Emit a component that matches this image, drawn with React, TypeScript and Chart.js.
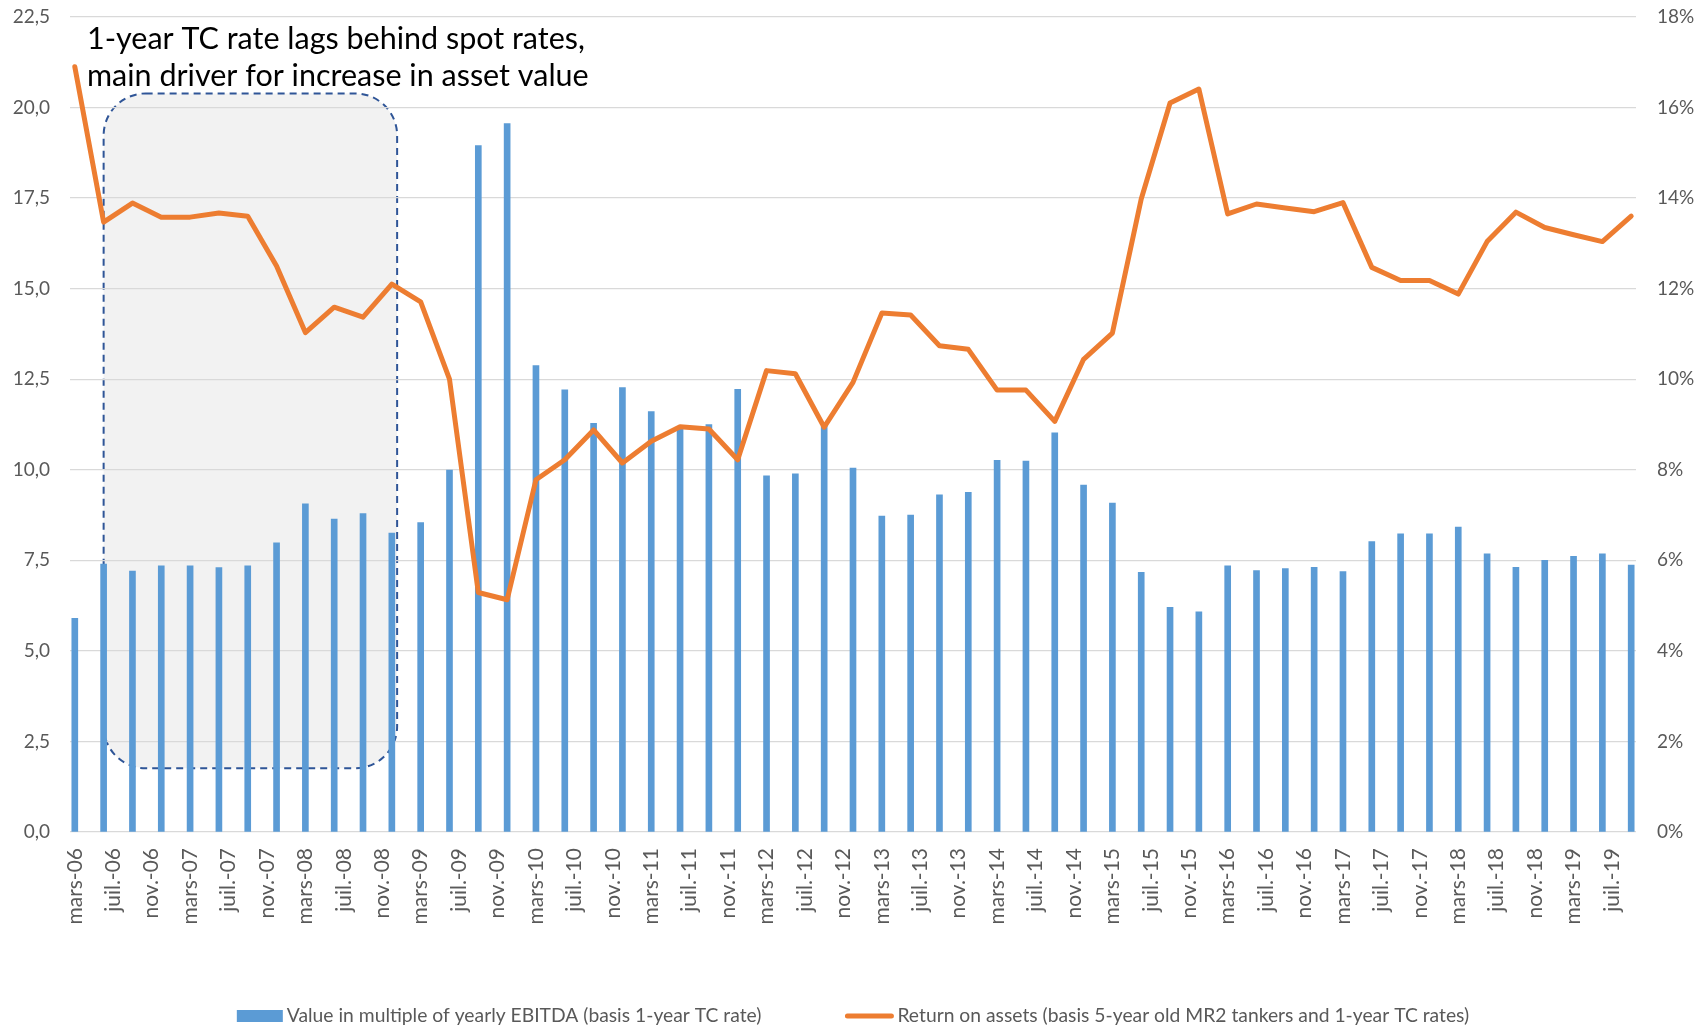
import React, { useEffect, useRef } from 'react';
import { Chart, registerables } from 'chart.js';

Chart.register(...registerables);

// ---- Axis categories (monthly date axis, March 2006 to September 2019) ----
const MONTHS_FR = ['janv.', 'févr.', 'mars', 'avr.', 'mai', 'juin', 'juil.', 'août', 'sept.', 'oct.', 'nov.', 'déc.'];
const FIRST_YEAR = 2006;
const FIRST_MONTH = 2; // mars
const MONTH_COUNT = 163;
const QUARTER_STEP = 3; // data is quarterly
const LABEL_STEP = 4; // a tick label every 4 months

// ---- Series values (one per quarter: mars-06, juin-06, sept-06, déc-06, ... sept-19) ----
const ebitdaMultiple = [
  5.9, 7.4, 7.2, 7.35, 7.35, 7.3, 7.35, 7.98, 9.06, 8.64,
  8.79, 8.25, 8.54, 9.99, 18.95, 19.56, 12.88, 12.21, 11.28, 12.27,
  11.61, 11.2, 11.25, 12.22, 9.83, 9.89, 11.2, 10.05, 8.72, 8.75,
  9.31, 9.38, 10.26, 10.24, 11.02, 9.58, 9.08, 7.17, 6.2, 6.08,
  7.35, 7.22, 7.27, 7.31, 7.19, 8.02, 8.23, 8.23, 8.42, 7.68,
  7.31, 7.5, 7.61, 7.68, 7.37,
];

const returnOnAssetsPct = [
  16.9, 13.47, 13.89, 13.58, 13.58, 13.67, 13.6, 12.5, 11.03, 11.59,
  11.37, 12.1, 11.71, 10.0, 5.29, 5.13, 7.78, 8.22, 8.88, 8.15,
  8.63, 8.95, 8.9, 8.22, 10.19, 10.12, 8.94, 9.93, 11.46, 11.42,
  10.74, 10.66, 9.76, 9.76, 9.07, 10.44, 11.02, 13.98, 16.1, 16.41,
  13.65, 13.87, 13.78, 13.7, 13.9, 12.47, 12.18, 12.18, 11.88, 13.04,
  13.69, 13.35, 13.19, 13.04, 13.6,
];

// ---- Axis ranges ----
const LEFT_MIN = 0;
const LEFT_MAX = 22.5;
const LEFT_STEP = 2.5;
const RIGHT_MIN = 0;
const RIGHT_MAX = 18;
const RIGHT_STEP = 2;

// ---- Texts ----
const SERIES_NAMES = [
  'Value in multiple of yearly EBITDA (basis 1-year TC rate)',
  'Return on assets (basis 5-year old MR2 tankers and 1-year TC rates)',
];
const NOTE_LINES = ['1-year TC rate lags behind spot rates,', 'main driver for increase in asset value'];

// ---- Highlight box (in axis values: month index / left-axis value) ----
const BOX_FROM_INDEX = 3;
const BOX_TO_INDEX = 33.55;
const BOX_TOP_VALUE = 20.39;
const BOX_BOTTOM_VALUE = 1.76;

const BAR_COLOR = '#5b9bd5';
const LINE_COLOR = '#ed7d31';
const TEXT_COLOR = '#595959';
const GRID_COLOR = '#d9d9d9';
const FONT = 'Lato';

function buildCategories(): string[] {
  const out: string[] = [];
  for (let i = 0; i < MONTH_COUNT; i++) {
    const m = (FIRST_MONTH + i) % 12;
    const y = FIRST_YEAR + Math.floor((FIRST_MONTH + i) / 12);
    out.push(`${MONTHS_FR[m]}-${String(y % 100).padStart(2, '0')}`);
  }
  return out;
}

function spreadQuarterly(values: number[]): (number | null)[] {
  const out: (number | null)[] = new Array(MONTH_COUNT).fill(null);
  values.forEach((v, q) => {
    out[q * QUARTER_STEP] = v;
  });
  return out;
}

function roundRect(ctx: CanvasRenderingContext2D, x0: number, y0: number, x1: number, y1: number, r: number) {
  ctx.beginPath();
  ctx.moveTo(x0 + r, y0);
  ctx.lineTo(x1 - r, y0);
  ctx.arcTo(x1, y0, x1, y0 + r, r);
  ctx.lineTo(x1, y1 - r);
  ctx.arcTo(x1, y1, x1 - r, y1, r);
  ctx.lineTo(x0 + r, y1);
  ctx.arcTo(x0, y1, x0, y1 - r, r);
  ctx.lineTo(x0, y0 + r);
  ctx.arcTo(x0, y0, x0 + r, y0, r);
  ctx.closePath();
}

const highlightBoxPlugin = {
  id: 'highlightBox',
  beforeDraw(chart: any) {
    const { ctx, scales } = chart;
    const x0 = scales.x.getPixelForValue(BOX_FROM_INDEX);
    const x1 = scales.x.getPixelForValue(BOX_TO_INDEX);
    const y0 = scales.y.getPixelForValue(BOX_TOP_VALUE);
    const y1 = scales.y.getPixelForValue(BOX_BOTTOM_VALUE);
    ctx.save();
    roundRect(ctx, x0, y0, x1, y1, 42);
    ctx.fillStyle = '#f2f2f2';
    ctx.fill();
    ctx.setLineDash([7, 5]);
    ctx.lineWidth = 2;
    ctx.strokeStyle = '#2f5597';
    ctx.stroke();
    ctx.restore();
  },
};

const notesAndLegendPlugin = {
  id: 'notesAndLegend',
  afterDraw(chart: any) {
    const { ctx, chartArea } = chart;
    ctx.save();
    // annotation text
    ctx.font = `30.5px ${FONT}`;
    ctx.fillStyle = '#000000';
    ctx.textAlign = 'left';
    ctx.textBaseline = 'alphabetic';
    ctx.fillText(NOTE_LINES[0], chartArea.left + 17, chartArea.top + 32);
    ctx.fillText(NOTE_LINES[1], chartArea.left + 17, chartArea.top + 69);

    // legend
    ctx.font = `19.3px ${FONT}`;
    const w1 = ctx.measureText(SERIES_NAMES[0]).width;
    const w2 = ctx.measureText(SERIES_NAMES[1]).width;
    const boxW = 46;
    const lineW = 48;
    const gap = 4;
    const itemGap = 84;
    const total = boxW + gap + w1 + itemGap + lineW + gap + w2;
    let x = (chart.width - total) / 2;
    const cy = chart.height - 14;
    ctx.fillStyle = BAR_COLOR;
    ctx.fillRect(x, cy - 6, boxW, 12);
    x += boxW + gap;
    ctx.fillStyle = TEXT_COLOR;
    ctx.textBaseline = 'middle';
    ctx.fillText(SERIES_NAMES[0], x, cy);
    x += w1 + itemGap;
    ctx.strokeStyle = LINE_COLOR;
    ctx.lineWidth = 5;
    ctx.lineCap = 'round';
    ctx.beginPath();
    ctx.moveTo(x + 2, cy);
    ctx.lineTo(x + lineW - 2, cy);
    ctx.stroke();
    x += lineW + gap;
    ctx.fillStyle = TEXT_COLOR;
    ctx.fillText(SERIES_NAMES[1], x, cy);
    ctx.restore();
  },
};

export default function App() {
  const canvasRef = useRef<HTMLCanvasElement | null>(null);

  useEffect(() => {
    if (!canvasRef.current) return;
    const categories = buildCategories();
    const chart = new Chart(canvasRef.current, {
      type: 'bar',
      data: {
        labels: categories,
        datasets: [
          {
            type: 'line',
            label: SERIES_NAMES[1],
            data: spreadQuarterly(returnOnAssetsPct),
            yAxisID: 'y1',
            borderColor: LINE_COLOR,
            backgroundColor: LINE_COLOR,
            borderWidth: 5,
            pointRadius: 0,
            tension: 0,
            spanGaps: true,
            borderJoinStyle: 'round',
            borderCapStyle: 'round',
            order: 0,
          } as any,
          {
            type: 'bar',
            label: SERIES_NAMES[0],
            data: spreadQuarterly(ebitdaMultiple),
            yAxisID: 'y',
            backgroundColor: BAR_COLOR,
            barThickness: 6,
            order: 1,
          } as any,
        ],
      },
      options: {
        animation: false,
        responsive: false,
        maintainAspectRatio: false,
        layout: { padding: { top: 17, left: 0, right: 0, bottom: 0 } },
        plugins: {
          legend: { display: false },
          tooltip: { enabled: false },
        },
        scales: {
          x: {
            type: 'category',
            offset: true,
            grid: { display: false, drawTicks: false },
            border: { display: false },
            ticks: {
              autoSkip: false,
              maxRotation: 90,
              minRotation: 90,
              padding: 16,
              color: TEXT_COLOR,
              font: { family: FONT, size: 21 },
              callback: function (this: any, value: any, index: number) {
                return index % LABEL_STEP === 0 ? this.getLabelForValue(value) : null;
              },
            },
            afterFit: (scale: any) => {
              scale.height = 198;
            },
          },
          y: {
            type: 'linear',
            position: 'left',
            min: LEFT_MIN,
            max: LEFT_MAX,
            grid: {
              color: GRID_COLOR,
              lineWidth: 1.3,
              drawTicks: true,
              tickLength: 20,
              tickColor: 'rgba(0,0,0,0)',
            },
            border: { display: false },
            ticks: {
              stepSize: LEFT_STEP,
              padding: 0,
              color: TEXT_COLOR,
              font: { family: FONT, size: 19 },
              callback: (v: any) => Number(v).toFixed(1).replace('.', ','),
            },
            afterFit: (scale: any) => {
              scale.width = 70;
            },
          },
          y1: {
            type: 'linear',
            position: 'right',
            min: RIGHT_MIN,
            max: RIGHT_MAX,
            grid: {
              display: true,
              drawOnChartArea: false,
              color: 'rgba(0,0,0,0)',
              drawTicks: true,
              tickLength: 21,
              tickColor: 'rgba(0,0,0,0)',
            },
            border: { display: false },
            ticks: {
              stepSize: RIGHT_STEP,
              padding: 0,
              color: TEXT_COLOR,
              font: { family: FONT, size: 19 },
              callback: (v: any) => `${v}%`,
            },
            afterFit: (scale: any) => {
              scale.width = 70;
            },
          },
        },
      },
      plugins: [highlightBoxPlugin, notesAndLegendPlugin],
    });
    return () => chart.destroy();
  }, []);

  return (
    <div style={{ position: 'fixed', left: 0, top: 0, width: 1706, height: 1030, background: '#ffffff' }}>
      <canvas ref={canvasRef} width={1706} height={1030} style={{ display: 'block' }} />
    </div>
  );
}
